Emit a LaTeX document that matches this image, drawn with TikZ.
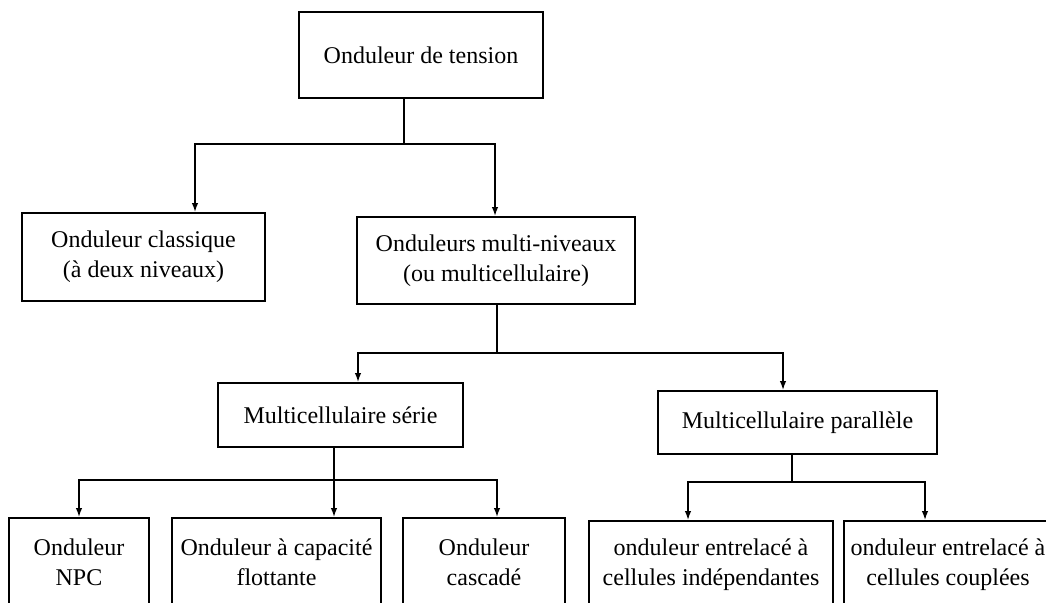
\documentclass[tikz,border=0pt]{standalone}
\usepackage{fontspec}
\setmainfont{Liberation Serif}
\usetikzlibrary{arrows.meta,calc}
\tikzset{
  boxnode/.style={draw=black, line width=2pt, rectangle, inner sep=0pt, align=center,
    font=\fontsize{24}{30}\selectfont},
  conn/.style={draw=black, line width=1.4pt},
  arr/.style={conn, -{Latex[length=9pt,width=6.5pt]}}
}
\begin{document}
\begin{tikzpicture}[x=1pt,y=-1pt]
\useasboundingbox (0,0) rectangle (1046,602);
\fill[white] (0,0) rectangle (1046,602);
\clip (0,0) rectangle (1046,602);
% boxes
\node[boxnode, minimum width=244pt, minimum height=86pt] (top) at (421,55) {Onduleur de tension};
\node[boxnode, minimum width=243pt, minimum height=88pt] (classique) at (143.5,257) {Onduleur classique\\(à deux niveaux)};
\node[boxnode, minimum width=278pt, minimum height=87pt] (multi) at (496,260.5) {Onduleurs multi-niveaux\\(ou multicellulaire)};
\node[boxnode, minimum width=245pt, minimum height=64pt] (serie) at (340.5,415) {Multicellulaire série};
\node[boxnode, minimum width=279pt, minimum height=63pt] (para) at (797.5,422.5) {Multicellulaire parallèle};
\node[boxnode, minimum width=140pt, minimum height=88pt] (npc) at (79,562) {Onduleur\\NPC};
\node[boxnode, minimum width=209pt, minimum height=88pt] (capa) at (276.5,562) {Onduleur à capacité\\flottante};
\node[boxnode, minimum width=162pt, minimum height=88pt] (casc) at (484,562) {Onduleur\\cascadé};
\node[boxnode, minimum width=244pt, minimum height=88pt] (indep) at (711,565) {onduleur entrelacé à\\cellules indépendantes};
\node[boxnode, minimum width=208pt, minimum height=88pt] (coupl) at (948,565) {onduleur entrelacé à\\cellules couplées};
% junctions
\coordinate (j1) at (404,144);
\coordinate (j2) at (497,353);
\coordinate (j3) at (334,480);
\coordinate (j4) at (792,482);
% connectors
\draw[conn] ([xshift=-17pt]top.south) -- (j1);
\draw[arr] (j1) -| ([xshift=51.5pt]classique.north);
\draw[arr] (j1) -| ([xshift=-1pt]multi.north);
\draw[conn] ([xshift=1pt]multi.south) -- (j2);
\draw[arr] (j2) -| ([xshift=17.5pt]serie.north);
\draw[arr] (j2) -| ([xshift=-14.5pt]para.north);
\draw[conn] ([xshift=-6.5pt]serie.south) -- (j3);
\draw[arr] (j3) -| (npc.north);
\draw[arr] (j3) -- ([xshift=57.5pt]capa.north);
\draw[arr] (j3) -| ([xshift=13pt]casc.north);
\draw[conn] ([xshift=-5.5pt]para.south) -- (j4);
\draw[arr] (j4) -| ([xshift=-23pt]indep.north);
\draw[arr] (j4) -| ([xshift=-23pt]coupl.north);
\end{tikzpicture}
\end{document}
